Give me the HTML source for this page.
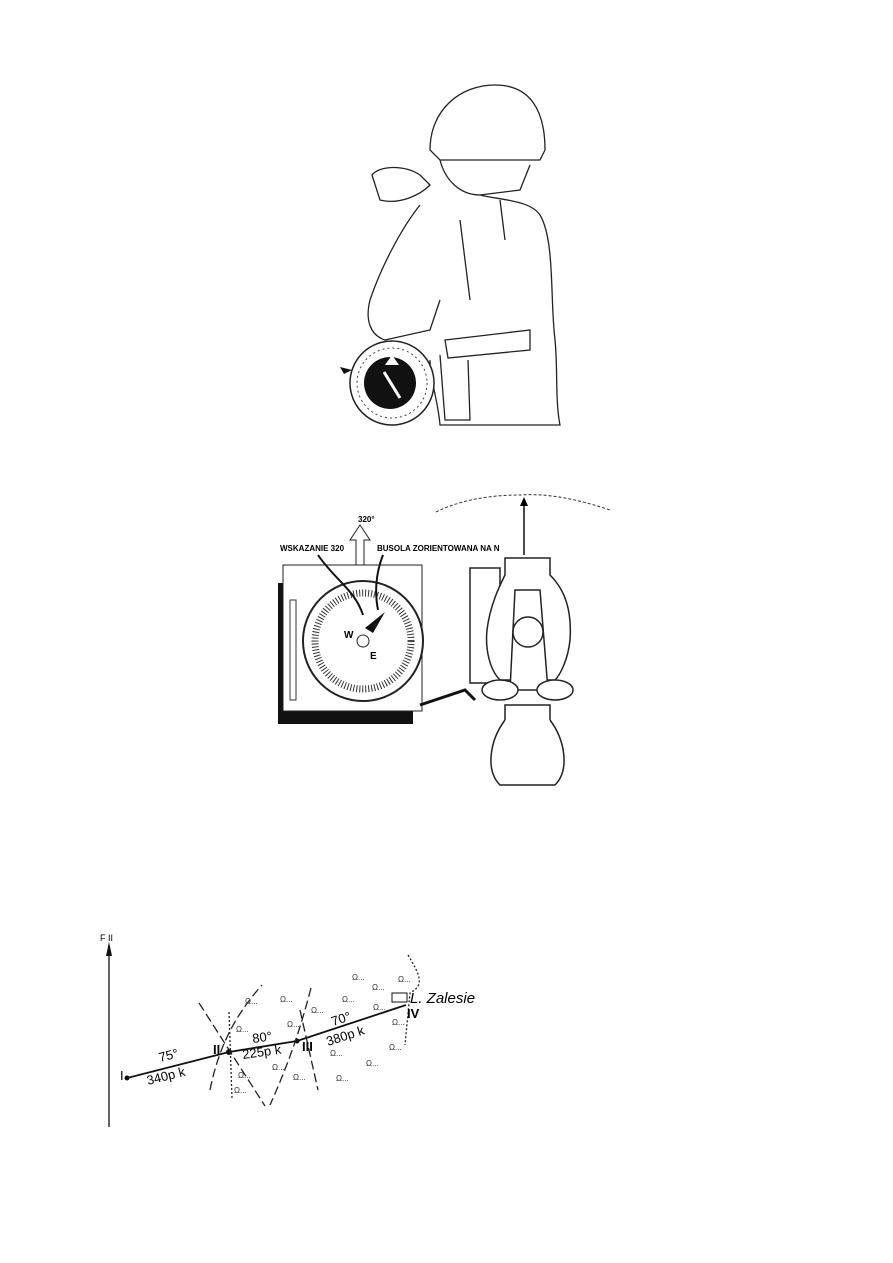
<!DOCTYPE html>
<html><head><meta charset="utf-8"><style>
html,body{margin:0;padding:0;background:#fff}
svg{display:block}
text{font-family:"Liberation Sans",sans-serif}
</style></head><body>
<svg width="893" height="1263" viewBox="0 0 893 1263" xmlns="http://www.w3.org/2000/svg">
<rect width="893" height="1263" fill="#fff"/>
<!-- Soldier figure (simplified line art) -->
<g fill="none" stroke="#222" stroke-width="1.3">
<path d="M430 150 C430 110 460 85 495 85 C530 85 545 110 545 150 L540 160 L440 160 Z"/>
<path d="M440 160 C445 180 460 195 480 195 L520 190 L530 165"/>
<path d="M372 175 C380 165 405 165 420 175 L430 185 C420 195 400 205 380 200 Z"/>
<path d="M480 195 C500 200 530 200 540 215 C555 240 550 300 555 340 C558 370 555 400 560 425 L440 425 C438 400 430 380 430 360"/>
<path d="M420 205 C400 230 380 270 370 300 C365 320 370 335 385 340 L430 330 L440 300"/>
<path d="M445 340 L530 330 L530 350 L448 358 Z"/>
<path d="M440 355 L445 420 L470 420 L468 360"/>
<path d="M500 200 L505 240 M460 220 L470 300"/>
</g>
<circle cx="392" cy="383" r="42" fill="#fff" stroke="#222" stroke-width="1.5"/>
<circle cx="392" cy="383" r="35" fill="none" stroke="#444" stroke-width="1" stroke-dasharray="2 3"/>
<circle cx="390" cy="383" r="26" fill="#111"/>
<path d="M385 365 L392 355 L399 365 Z" fill="#fff"/>
<line x1="384" y1="372" x2="400" y2="398" stroke="#fff" stroke-width="3"/>
<path d="M352 370 L340 367 L344 374" fill="#111"/>
<!-- Compass diagram -->
<g>
<text x="358" y="522" font-size="8" font-weight="bold">320°</text>
<path d="M356 565 L356 540 L350 540 L360 525 L370 540 L364 540 L364 565" fill="#fff" stroke="#222"/>
<rect x="278" y="583" width="135" height="141" fill="#111"/>
<rect x="283" y="565" width="139" height="146" fill="#fff" stroke="#222"/>
<rect x="290" y="600" width="6" height="100" fill="none" stroke="#333"/>
<circle cx="363" cy="641" r="60" fill="#fff" stroke="#222" stroke-width="2"/>
<circle cx="363" cy="641" r="48" fill="none" stroke="#333" stroke-width="7" stroke-dasharray="1 2"/>
<circle cx="363" cy="641" r="6" fill="none" stroke="#222"/>
<path d="M365 628 L385 612 L373 633 Z" fill="#111"/>
<text x="344" y="638" font-size="10" font-weight="bold">W</text>
<text x="370" y="659" font-size="10" font-weight="bold">E</text>
<path d="M318 555 C335 580 355 590 363 615" fill="none" stroke="#111" stroke-width="2"/>
<path d="M383 555 C375 575 375 595 378 610" fill="none" stroke="#111" stroke-width="2"/>
<text x="280" y="551" font-size="8" font-weight="bold">WSKAZANIE 320</text>
<text x="377" y="551" font-size="8" font-weight="bold">BUSOLA ZORIENTOWANA NA N</text>
<!-- landscape -->
<path d="M436 512 C460 500 490 495 520 495 C550 493 580 500 610 510" fill="none" stroke="#333" stroke-dasharray="3 2"/>
<line x1="524" y1="555" x2="524" y2="500" stroke="#111" stroke-width="1.5"/>
<path d="M520 506 L524 497 L528 506 Z"/>
<!-- right compass -->
<g fill="#fff" stroke="#222" stroke-width="1.5">
<rect x="470" y="568" width="30" height="115"/>
<path d="M505 558 L550 558 L550 575 C565 590 572 610 570 640 C568 660 560 675 555 680 L500 680 C490 670 485 650 487 630 C490 605 500 585 505 575 Z"/>
<path d="M515 590 L540 590 L548 690 L510 690 Z"/>
<circle cx="528" cy="632" r="15"/>
<ellipse cx="500" cy="690" rx="18" ry="10"/>
<ellipse cx="555" cy="690" rx="18" ry="10"/>
<rect x="505" y="705" width="45" height="18"/>
<path d="M505 720 C490 740 485 770 500 785 L555 785 C570 770 565 740 550 720"/>
</g>
<path d="M420 705 L465 690 L475 700" fill="none" stroke="#111" stroke-width="3"/>
</g>
<!-- Map -->
<g>
<line x1="109" y1="1127" x2="109" y2="945" stroke="#111" stroke-width="1.3"/>
<path d="M106 956 L109 942 L112 956 Z" fill="#111"/>
<text x="100" y="941" font-size="9">F II</text>
<polyline points="127,1078 229,1052 297,1041 406,1005" fill="none" stroke="#111" stroke-width="1.8"/>
<circle cx="127" cy="1078" r="2.5" fill="#111"/><circle cx="229" cy="1052" r="3" fill="#111"/><circle cx="297" cy="1041" r="2.5" fill="#111"/>
<g fill="none" stroke="#222" stroke-width="1.3" stroke-dasharray="9 4">
<path d="M199 1003 L265 1106"/><path d="M210 1090 C220 1040 240 1010 262 985"/>
<path d="M229 1012 L232 1098" stroke-dasharray="2 2"/>
<path d="M311 988 C300 1030 290 1060 270 1105"/><path d="M300 1010 L318 1090"/>
<path d="M408 955 C420 975 425 985 410 993 L405 1045" stroke-dasharray="2 2"/>
</g>
<rect x="392" y="993" width="15" height="9" fill="#fff" stroke="#111"/>
<g font-family="Liberation Sans,sans-serif" font-size="13">
<text x="120" y="1080" font-family="Liberation Serif,serif">I</text>
<text x="213" y="1054" font-family="Liberation Serif,serif" font-weight="bold">II</text>
<text x="302" y="1051" font-family="Liberation Serif,serif" font-weight="bold">III</text>
<text x="407" y="1018" font-family="Liberation Serif,serif" font-weight="bold">IV</text>
<text x="410" y="1003" font-family="Liberation Serif,serif" font-style="italic" font-size="15">L. Zalesie</text>
<text x="160" y="1062" transform="rotate(-14 160 1062)">75°</text>
<text x="148" y="1085" transform="rotate(-14 148 1085)">340p k</text>
<text x="253" y="1043" transform="rotate(-8 253 1043)">80°</text>
<text x="243" y="1059" transform="rotate(-8 243 1059)">225p k</text>
<text x="333" y="1026" transform="rotate(-18 333 1026)">70°</text>
<text x="328" y="1046" transform="rotate(-18 328 1046)">380p k</text>
</g>
<g font-size="8" fill="#333">
<text x="245" y="1004">Ω...</text><text x="280" y="1002">Ω...</text><text x="342" y="1002">Ω...</text><text x="352" y="980">Ω...</text>
<text x="372" y="990">Ω...</text><text x="398" y="982">Ω...</text><text x="311" y="1013">Ω...</text><text x="287" y="1027">Ω...</text>
<text x="236" y="1032">Ω...</text><text x="373" y="1010">Ω...</text><text x="392" y="1025">Ω...</text><text x="389" y="1050">Ω...</text>
<text x="330" y="1056">Ω...</text><text x="366" y="1066">Ω...</text><text x="272" y="1070">Ω...</text><text x="238" y="1078">Ω...</text>
<text x="293" y="1080">Ω...</text><text x="336" y="1081">Ω...</text><text x="234" y="1093">Ω...</text>
</g>
</g>
</svg>
</body></html>
